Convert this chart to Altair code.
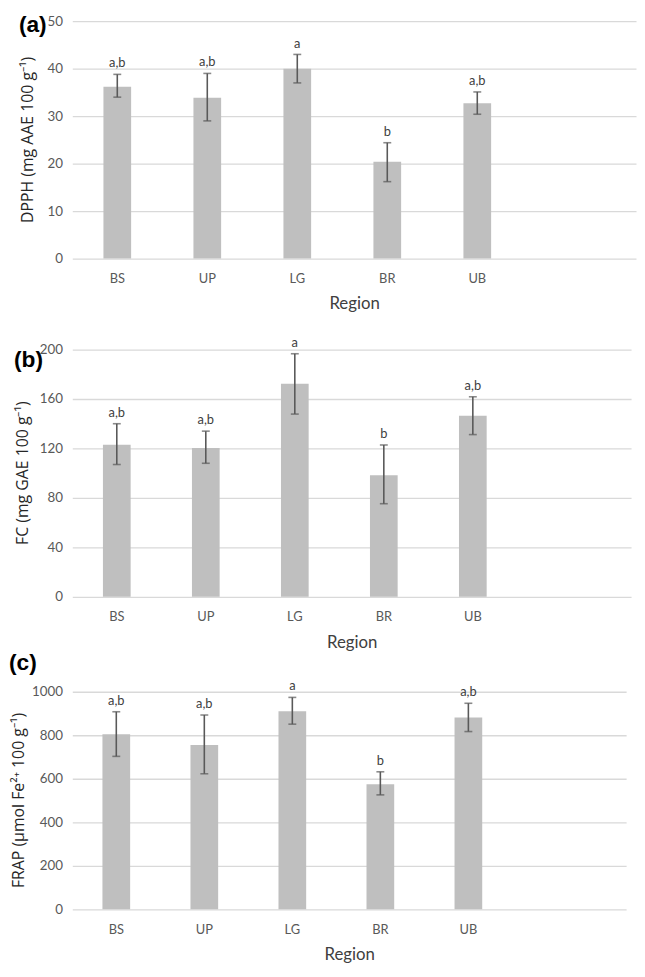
import altair as alt
import pandas as pd

regions = ["BS", "UP", "LG", "BR", "UB"]
letters = ["a,b", "a,b", "a", "b", "a,b"]

dpph_mean = [36.2, 33.9, 40.0, 20.4, 32.7]
dpph_lo = [34.0, 29.0, 37.0, 16.2, 30.4]
dpph_hi = [38.8, 39.0, 43.0, 24.4, 35.1]

fc_mean = [123.0, 120.4, 172.3, 98.3, 146.5]
fc_lo = [107.0, 108.0, 147.8, 75.3, 131.2]
fc_hi = [140.0, 134.0, 196.6, 122.8, 161.8]

frap_mean = [805, 755, 910, 575, 882]
frap_lo = [703, 623, 851, 526, 817]
frap_hi = [908, 893, 974, 632, 947]

NARROW = "Lato"
SANS = "Open Sans"


def panel(mean, lo, hi, ytitle, ymax, step, height, width, band, label, label_x, label_y,
          title_x, top_pad=None):
    df = pd.DataFrame({"region": regions, "mean": mean, "lo": lo, "hi": hi, "letter": letters})
    # bands of width `band` packed at the left, the rest of the plot left empty
    pad_outer = (width / band - len(regions)) / 2
    xscale = alt.Scale(domain=regions, paddingInner=0, paddingOuter=pad_outer, align=0)
    x = alt.X(
        "region:N",
        sort=regions,
        scale=xscale,
        axis=alt.Axis(
            title="Region", labelAngle=0, ticks=False, domain=False, grid=False,
            labelPadding=14, labelFont=NARROW, labelFontSize=13, labelColor="#595959",
            titleFont=NARROW, titleFontSize=17, titleColor="#404040", titleFontWeight="normal",
            titlePadding=11,
        ),
    )
    yscale = alt.Scale(domain=[0, ymax], nice=False)
    yaxis = alt.Axis(
        values=list(range(0, ymax + 1, step)), format="d", title=None, grid=True,
        gridColor="#d9d9d9", gridWidth=1.3, domain=False, ticks=False,
        labelPadding=10, labelFont=NARROW, labelFontSize=13.5, labelColor="#595959",
    )
    base = alt.Chart(df)
    bars = base.mark_bar(size=28, color="#bfbfbf").encode(
        x=x, y=alt.Y("mean:Q", scale=yscale, axis=yaxis)
    )
    rules = base.mark_rule(color="#595959", strokeWidth=1.6).encode(
        x=x, y=alt.Y("lo:Q", scale=yscale, axis=yaxis), y2="hi:Q"
    )
    cap_lo = base.mark_tick(color="#595959", size=8, thickness=1.6).encode(
        x=x, y=alt.Y("lo:Q", scale=yscale, axis=yaxis)
    )
    cap_hi = base.mark_tick(color="#595959", size=8, thickness=1.6).encode(
        x=x, y=alt.Y("hi:Q", scale=yscale, axis=yaxis)
    )
    txt = base.mark_text(baseline="bottom", dy=-4, font=NARROW, fontSize=13, color="#404040").encode(
        x=x, y=alt.Y("hi:Q", scale=yscale, axis=yaxis), text="letter:N"
    )
    lab_df = pd.DataFrame({"t": [label], "yt": [ytitle]})
    lab = alt.Chart(lab_df).mark_text(
        align="left", baseline="top", font="Liberation Sans",
        fontSize=23, fontWeight="bold", color="#000000"
    ).encode(text="t:N", x=alt.value(label_x), y=alt.value(label_y))
    ytl = alt.Chart(lab_df).mark_text(
        align="center", baseline="middle", angle=270, font=SANS,
        fontSize=16, color="#262626"
    ).encode(text="yt:N", x=alt.value(title_x), y=alt.value(height / 2))
    layers = [bars, rules, cap_lo, cap_hi, txt, lab, ytl]
    if top_pad is not None:
        spacer = alt.Chart(lab_df).mark_rule(strokeOpacity=0, opacity=0).encode(
            x=alt.value(0), x2=alt.value(2), y=alt.value(-top_pad)
        )
        layers.append(spacer)
    return alt.layer(*layers).properties(width=width, height=height)


pa = panel(dpph_mean, dpph_lo, dpph_hi, "DPPH (mg AAE 100 g⁻¹)", 50, 10, 240, 570,
           91, "(a)", -54, -7, -45)
pb = panel(fc_mean, fc_lo, fc_hi, "FC (mg GAE 100 g⁻¹)", 200, 40, 250, 565,
           90, "(b)", -59, 0, -50, top_pad=36)
pc = panel(frap_mean, frap_lo, frap_hi, "FRAP (µmol Fe²⁺ 100 g⁻¹)", 1000, 200, 220, 560,
           89, "(c)", -64, -40, -54)

chart = alt.concat(pa, pb, pc, columns=1, align="none", spacing=0).properties(
    padding={"left": 0, "top": 0, "right": 0, "bottom": 0}
).configure(background="white").configure_view(stroke="transparent")

chart.save("out.html", embed_options={"renderer": "svg", "actions": False})
